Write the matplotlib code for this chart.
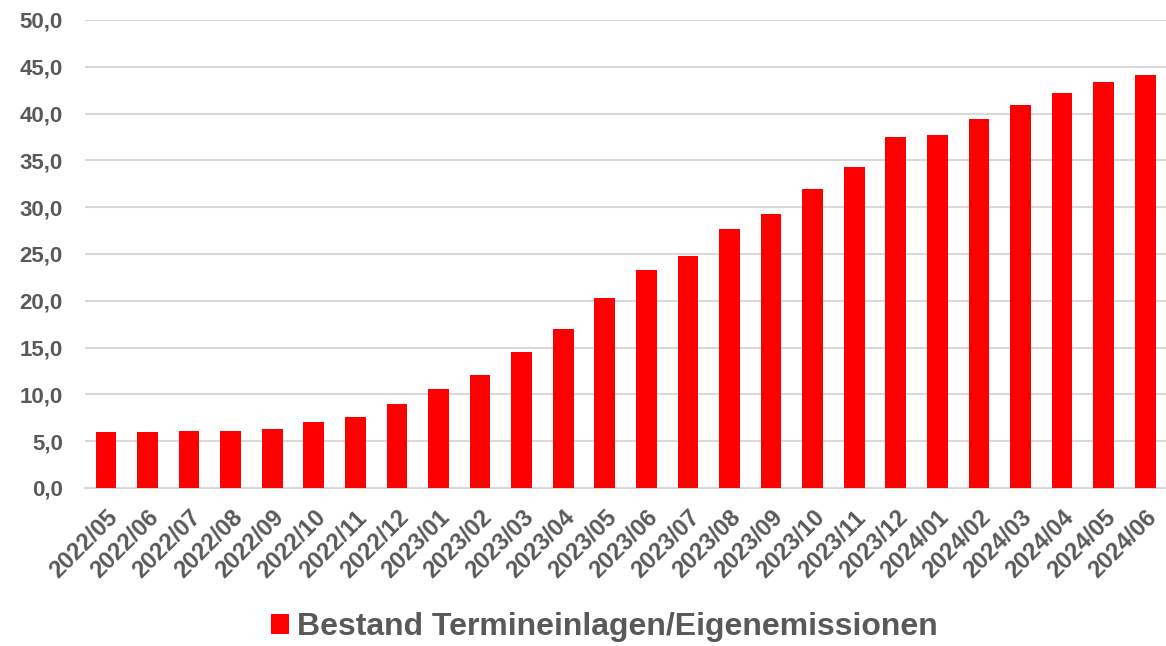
import matplotlib.pyplot as plt
from matplotlib.patches import Patch
from matplotlib.ticker import FuncFormatter

months = ["2022/05", "2022/06", "2022/07", "2022/08", "2022/09", "2022/10",
          "2022/11", "2022/12", "2023/01", "2023/02", "2023/03", "2023/04",
          "2023/05", "2023/06", "2023/07", "2023/08", "2023/09", "2023/10",
          "2023/11", "2023/12", "2024/01", "2024/02", "2024/03", "2024/04",
          "2024/05", "2024/06"]
bestand = [6.0, 6.0, 6.1, 6.1, 6.3, 7.0, 7.6, 9.0, 10.6, 12.1, 14.5, 17.0,
           20.3, 23.3, 24.8, 27.7, 29.3, 31.9, 34.3, 37.5, 37.7, 39.4, 40.9,
           42.2, 43.4, 44.1]
series_name = "Bestand Termineinlagen/Eigenemissionen"

yticks = [0, 5, 10, 15, 20, 25, 30, 35, 40, 45, 50]

text_color = "#595959"
bar_color = "#ff0000"

plt.rcParams['font.family'] = ['Liberation Sans', 'DejaVu Sans']

fig = plt.figure(figsize=(11.66, 6.46), dpi=100)
ax = fig.add_axes([0.073, 0.2446, 0.927, 0.7245])

x = range(len(months))
ax.bar(x, bestand, width=0.5, color=bar_color, zorder=3)

ax.set_xlim(-0.5, len(months) - 0.5)
ax.set_ylim(0, 50)
ax.set_yticks(yticks)
ax.yaxis.set_major_formatter(FuncFormatter(lambda v, p: f"{v:.1f}".replace(".", ",")))
ax.grid(axis='y', color='#d9d9d9', linewidth=1.5, zorder=0)

for side in ['top', 'right', 'left']:
    ax.spines[side].set_visible(False)
ax.spines['bottom'].set_color('#d9d9d9')
ax.spines['bottom'].set_linewidth(1.5)

ax.tick_params(axis='both', length=0, colors=text_color)
ax.tick_params(axis='y', pad=16, labelsize=16)
ax.tick_params(axis='x', pad=13, labelsize=17)
ax.set_xticks(list(x))
ax.set_xticklabels(months, rotation=45, ha='right', rotation_mode='anchor')
for lbl in ax.get_xticklabels() + ax.get_yticklabels():
    lbl.set_fontweight('bold')

handle = Patch(facecolor=bar_color, edgecolor='none')
leg = fig.legend([handle], [series_name], loc='center', bbox_to_anchor=(0.5185, 0.029),
                 frameon=False, handlelength=0.56, handleheight=0.56, handletextpad=0.25,
                 prop={'weight': 'bold', 'size': 23})
for t in leg.get_texts():
    t.set_color(text_color)

fig.savefig("out.png", dpi=100)
